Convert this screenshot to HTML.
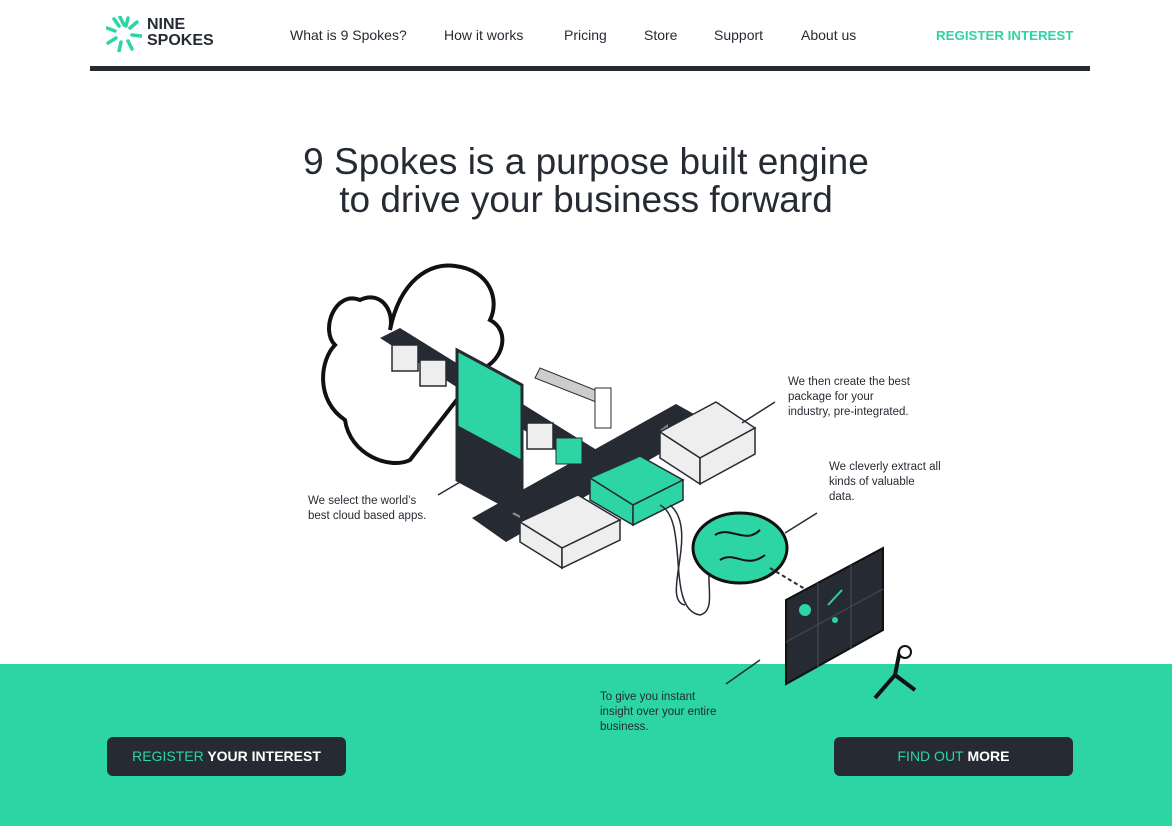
<!DOCTYPE html>
<html><head><meta charset="utf-8"><style>
body{margin:0;width:1172px;height:826px;background:#fff;font-family:"Liberation Sans",sans-serif;position:relative;overflow:hidden;color:#262b33}
.nav{position:absolute;top:27px;font-size:14px;color:#262b33}
.bar{position:absolute;left:90px;top:66px;width:1000px;height:5px;background:#262b33}
h1{position:absolute;top:143px;left:0;width:1172px;text-align:center;font-weight:normal;font-size:37px;line-height:38px;margin:0;color:#262b33}
.green{position:absolute;left:0;top:664px;width:1172px;height:162px;background:#2dd4a4}
.btn{position:absolute;top:737px;height:39px;background:#262b33;border-radius:6px;color:#fff;font-size:14px;line-height:39px;text-align:center;font-weight:bold}
.btn span{color:#2dd4a4;font-weight:normal}
.lbl{position:absolute;font-size:11.5px;line-height:15px;color:#262b33}
</style></head><body>
<svg style="position:absolute;left:106px;top:16px" width="36" height="36" viewBox="0 0 36 36"><g stroke="#2dd4a4" stroke-width="3.5" stroke-linecap="round" fill="none">
<path d="M18 9 L14 1"/><path d="M24 12 L31 6"/><path d="M26 19 L35 20"/><path d="M22 25 L26 33"/><path d="M15 26 L13 35"/><path d="M10 22 L2 27"/><path d="M9 15 L1 12"/><path d="M13 10 L8 3"/><path d="M20 10 L22 2"/></g></svg>
<div style="position:absolute;left:147px;top:17px;font-size:16px;font-weight:bold;line-height:16px;color:#262b33">NINE<br>SPOKES</div>
<div class="nav" style="left:290px">What is 9 Spokes?</div>
<div class="nav" style="left:444px">How it works</div>
<div class="nav" style="left:564px">Pricing</div>
<div class="nav" style="left:644px">Store</div>
<div class="nav" style="left:714px">Support</div>
<div class="nav" style="left:801px">About us</div>
<div class="nav" style="left:936px;color:#2dd4a4;font-weight:bold;font-size:13.3px;top:28px">REGISTER INTEREST</div>
<div class="bar"></div>
<h1>9 Spokes is a purpose built engine<br>to drive your business forward</h1>
<div class="green"></div>
<svg style="position:absolute;left:0;top:0" width="1172" height="826">
<!-- clouds -->
<path d="M345 420 C315 400 320 360 335 345 C320 330 335 290 360 300 C380 290 395 310 390 330 C400 280 430 262 455 266 C490 270 500 300 490 320 C510 330 505 360 480 370 L410 460 C390 470 350 455 345 420 Z" fill="#fff" stroke="#111" stroke-width="4"/>
<!-- conveyor -->
<polygon points="380,338 400,328 600,452 580,466" fill="#262b33"/>
<!-- road -->
<polygon points="472,518 676,404 712,424 506,542" fill="#262b33"/>
<polygon points="660,430 668,424 668,436" fill="#888"/><polygon points="512,514 520,508 520,518" fill="#888"/>
<!-- screen -->
<polygon points="457,350 522,385 522,515 457,480" fill="#2dd4a4" stroke="#262b33" stroke-width="3"/>
<polygon points="457,425 522,460 522,515 457,480" fill="#262b33"/>
<!-- cubes -->
<g fill="#eee" stroke="#262b33" stroke-width="1.5">
<rect x="392" y="345" width="26" height="26"/><rect x="420" y="360" width="26" height="26"/><rect x="527" y="423" width="26" height="26"/>
<polygon points="520,522 578,495 620,520 562,548"/>
<polygon points="520,522 562,548 562,568 520,542"/>
<polygon points="562,548 620,520 620,540 562,568"/>
<polygon points="660,432 716,402 755,428 700,458"/>
<polygon points="660,432 700,458 700,484 660,458"/>
<polygon points="700,458 755,428 755,454 700,484"/>
</g>
<rect x="556" y="438" width="26" height="26" fill="#2dd4a4" stroke="#262b33"/>
<g fill="#2dd4a4" stroke="#262b33" stroke-width="1.5">
<polygon points="590,478 640,456 683,480 633,505"/>
<polygon points="590,478 633,505 633,525 590,500"/>
<polygon points="633,505 683,480 683,500 633,525"/>
</g>
<!-- barrier -->
<polygon points="535,378 540,368 600,392 596,402" fill="#ccc" stroke="#262b33"/>
<rect x="595" y="388" width="16" height="40" fill="#fff" stroke="#262b33"/>
<!-- cables -->
<path d="M660 505 C690 520 665 610 700 615 C720 610 700 570 715 560" fill="none" stroke="#262b33" stroke-width="1.5"/>
<path d="M670 505 C700 530 660 600 685 605" fill="none" stroke="#262b33" stroke-width="1.5"/>
<!-- brain -->
<ellipse cx="740" cy="548" rx="47" ry="35" fill="#2dd4a4" stroke="#111" stroke-width="3"/>
<path d="M715 535 C730 525 745 545 760 530 M720 560 C735 550 745 570 765 555" stroke="#111" stroke-width="2" fill="none"/>
<line x1="770" y1="568" x2="810" y2="592" stroke="#262b33" stroke-width="2" stroke-dasharray="4 3"/>
<!-- dashboard -->
<polygon points="786,600 883,548 883,630 786,684" fill="#262b33" stroke="#111" stroke-width="2"/>
<g stroke="#3d434c" stroke-width="1.5"><line x1="818" y1="583" x2="818" y2="667"/><line x1="851" y1="565" x2="851" y2="649"/><line x1="786" y1="642" x2="883" y2="589"/></g>
<g fill="#2dd4a4"><circle cx="805" cy="610" r="6"/><circle cx="835" cy="620" r="3"/><path d="M828 605 L842 590" stroke="#2dd4a4" stroke-width="2"/></g>
<!-- person -->
<path d="M900 650 L895 675 L875 698 M895 675 L915 690" stroke="#111" stroke-width="4" fill="none"/>
<circle cx="905" cy="652" r="6" fill="#fff" stroke="#111" stroke-width="2"/>
<!-- pointer lines -->
<g stroke="#262b33" stroke-width="1.5">
<line x1="438" y1="495" x2="472" y2="475"/>
<line x1="742" y1="423" x2="775" y2="402"/>
<line x1="785" y1="533" x2="817" y2="513"/>
<line x1="726" y1="684" x2="760" y2="660"/>
</g>
</svg>
<div class="lbl" style="left:308px;top:494px">We select the world’s<br>best cloud based apps.</div>
<div class="lbl" style="left:788px;top:375px">We then create the best<br>package for your<br>industry, pre-integrated.</div>
<div class="lbl" style="left:829px;top:460px">We cleverly extract all<br>kinds of valuable<br>data.</div>
<div class="lbl" style="left:600px;top:690px">To give you instant<br>insight over your entire<br>business.</div>
<div class="btn" style="left:107px;width:239px"><span>REGISTER</span> YOUR INTEREST</div>
<div class="btn" style="left:834px;width:239px"><span>FIND OUT</span> MORE</div>
</body></html>
